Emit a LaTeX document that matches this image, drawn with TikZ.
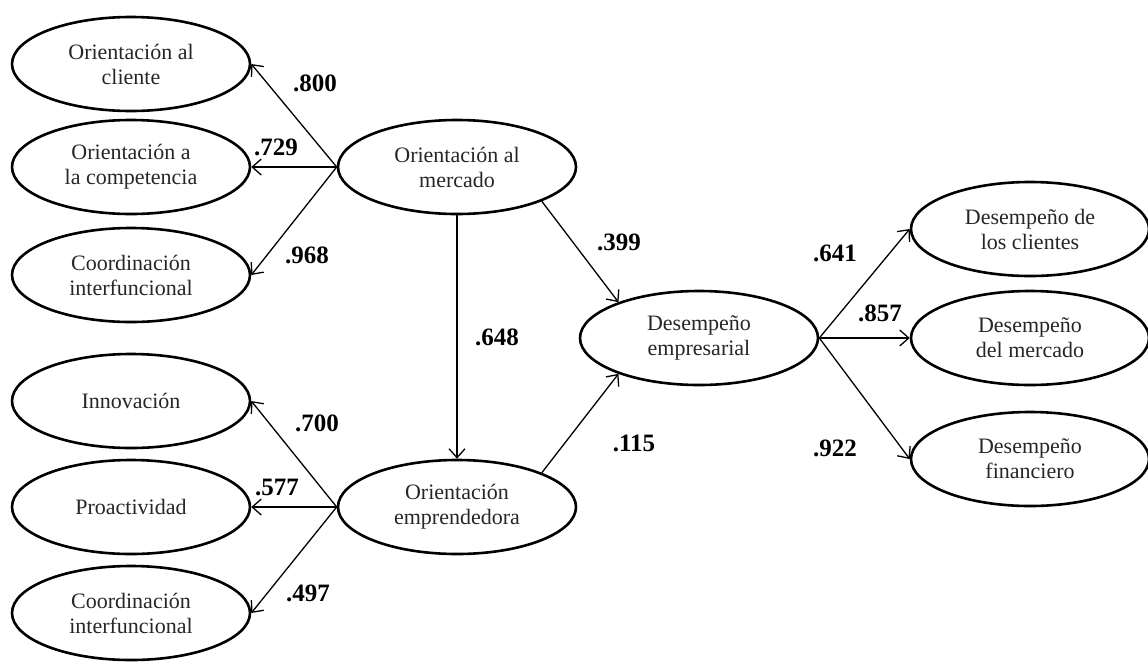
\documentclass[tikz,border=0pt]{standalone}
\usepackage{fontspec}
\setmainfont{Liberation Serif}
\usetikzlibrary{shapes.geometric,arrows.meta}
\tikzset{
  lat/.style={draw=black, line width=2.6pt, ellipse, minimum width=238pt, minimum height=94pt,
    inner sep=0pt, align=center, font=\fontsize{22}{25}\selectfont, text=black!85},
  path/.style={line width=1.3pt, -{Straight Barb[length=9pt,width=16pt,line width=1.3pt]}},
  coef/.style={font=\fontsize{25}{28}\selectfont\bfseries}
}
\begin{document}
\begin{tikzpicture}[x=1pt,y=-1pt]
\useasboundingbox (0,0) rectangle (1148,662);
% left column
\node[lat] (oc) at (131,64) {Orientación al\\cliente};
\node[lat] (oco) at (131,167) {Orientación a\\la competencia};
\node[lat] (ci1) at (131,275) {Coordinación\\interfuncional};
\node[lat] (in) at (131,401) {Innovación};
\node[lat] (pr) at (131,507) {Proactividad};
\node[lat] (ci2) at (131,613) {Coordinación\\interfuncional};
% middle
\node[lat] (om) at (457,167) {Orientación al\\mercado};
\node[lat] (oe) at (457,507) {Orientación\\emprendedora};
\node[lat] (de) at (699,338) {Desempeño\\empresarial};
% right
\node[lat] (dc) at (1030,229) {Desempeño de\\los clientes};
\node[lat] (dm) at (1030,338) {Desempeño\\del mercado};
\node[lat] (df) at (1030,459) {Desempeño\\financiero};
% paths
\draw[path] (om.west) -- (oc.east);
\draw[path] (om.west) -- (oco.east);
\draw[path] (om.west) -- (ci1.east);
\draw[path] (oe.west) -- (in.east);
\draw[path] (oe.west) -- (pr.east);
\draw[path] (oe.west) -- (ci2.east);
\draw[path] (om.south) -- (oe.north);
\draw[path] (om.-22) -- (de.156);
\draw[path] (oe.22) -- (de.204);
\draw[path] (de.east) -- (dc.west);
\draw[path] (de.east) -- (dm.west);
\draw[path] (de.east) -- (df.west);
% coefficients
\node[coef] (c1) at (315,83) {.800};
\node[coef] (c2) at (276,147) {.729};
\node[coef] (c3) at (307,255) {.968};
\node[coef] (c4) at (497,337) {.648};
\node[coef] (c5) at (619,242) {.399};
\node[coef] (c6) at (634,443) {.115};
\node[coef] (c7) at (317,423) {.700};
\node[coef] (c8) at (277,487) {.577};
\node[coef] (c9) at (308,593) {.497};
\node[coef] (c10) at (835,253) {.641};
\node[coef] (c11) at (880,313) {.857};
\node[coef] (c12) at (835,448) {.922};
\end{tikzpicture}
\end{document}
